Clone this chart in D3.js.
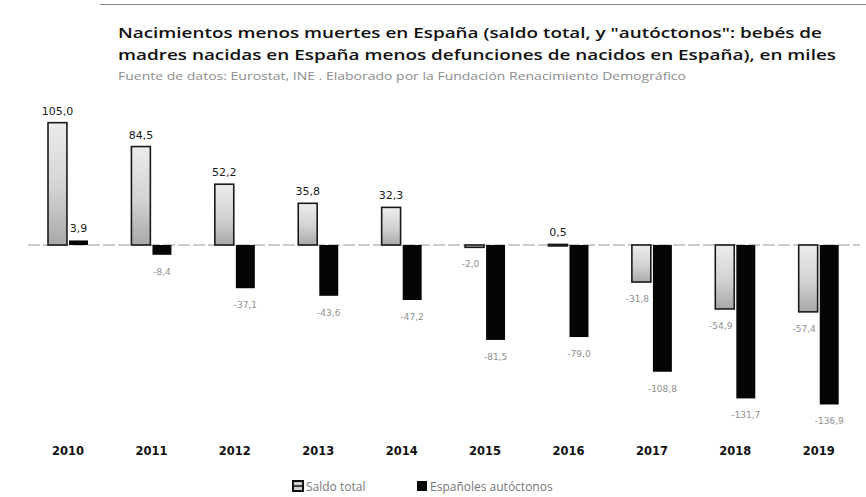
<!DOCTYPE html>
<html>
<head>
<meta charset="utf-8">
<script src="https://cdn.jsdelivr.net/npm/d3@7"></script>
<style>
  html, body { margin: 0; padding: 0; background: #fff; }
  svg { display: block; }
</style>
</head>
<body>
<svg id="chart" width="866" height="497"></svg>
<script>
// values in thousands
const years = ['2010', '2011', '2012', '2013', '2014', '2015', '2016', '2017', '2018', '2019'];
const saldoTotal = [105.0, 84.5, 52.2, 35.8, 32.3, -2.0, 0.5, -31.8, -54.9, -57.4];
const autoctonos = [3.9, -8.4, -37.1, -43.6, -47.2, -81.5, -79.0, -108.8, -131.7, -136.9];
const seriesNames = ['Saldo total', 'Españoles autóctonos'];
const titleLines = [
  'Nacimientos menos muertes en España (saldo total, y "autóctonos": bebés de',
  'madres nacidas en España menos defunciones de nacidos en España), en miles'
];
const sourceText = 'Fuente de datos: Eurostat, INE . Elaborado por la Fundación Renacimiento Demográfico';

const rows = years.map((y, i) => ({ year: y, values: [saldoTotal[i], autoctonos[i]] }));

const svg = d3.select('#chart');
const width = 866;

const fmt = v => d3.format('.1f')(v).replace('.', ',').replace('−', '-');

// gradient for the light bars
const defs = svg.append('defs');
const grad = defs.append('linearGradient')
  .attr('id', 'saldoGrad')
  .attr('x1', 0).attr('y1', 0).attr('x2', 0).attr('y2', 1);
grad.append('stop').attr('offset', '0%').attr('stop-color', '#ececec');
grad.append('stop').attr('offset', '55%').attr('stop-color', '#d2d2d2');
grad.append('stop').attr('offset', '100%').attr('stop-color', '#a8a8a8');

// top rule
svg.append('line')
  .attr('x1', 100).attr('x2', width)
  .attr('y1', 4.5).attr('y2', 4.5)
  .attr('stroke', '#8a8a8a')
  .attr('stroke-width', 1.2);

// title
svg.selectAll('text.title')
  .data(titleLines)
  .enter().append('text')
  .attr('class', 'title')
  .attr('x', 118)
  .attr('y', (d, i) => 38 + i * 22)
  .attr('textLength', (d, i) => i == 0 ? 704 : 718)
  .attr('lengthAdjust', 'spacingAndGlyphs')
  .style('font-family', '"Open Sans", "DejaVu Sans", sans-serif')
  .style('font-weight', 600)
  .style('font-size', '14.5px')
  .style('fill', '#111')
  .text(d => d);

svg.append('text')
  .attr('x', 118)
  .attr('y', 80)
  .attr('textLength', 568)
  .attr('lengthAdjust', 'spacingAndGlyphs')
  .style('font-family', '"Open Sans", sans-serif')
  .style('font-size', '10.5px')
  .style('fill', '#8c8c8c')
  .text(sourceText);

// scales
const x0 = d3.scaleBand()
  .domain(years)
  .range([26.3, 860.4])
  .paddingInner(0.47)
  .paddingOuter(0.235);

const x1 = d3.scaleBand()
  .domain(d3.range(seriesNames.length))
  .range([0, x0.bandwidth()])
  .padding(0.1);

const y = d3.scaleLinear()
  .domain([-140, 110])
  .range([408.1, 116.85]);

// zero line
svg.append('line')
  .attr('x1', 28).attr('x2', 860)
  .attr('y1', y(0)).attr('y2', y(0))
  .attr('stroke', '#9a9a9a')
  .attr('stroke-width', 1)
  .attr('stroke-dasharray', '12,3');

const groups = svg.selectAll('g.year')
  .data(rows)
  .enter().append('g')
  .attr('class', 'year')
  .attr('transform', d => `translate(${x0(d.year)},0)`);

groups.selectAll('rect')
  .data(d => d.values.map((v, k) => ({ v, k })))
  .enter().append('rect')
  .attr('x', d => x1(d.k))
  .attr('width', x1.bandwidth())
  .attr('y', d => y(Math.max(0, d.v)))
  .attr('height', d => Math.max(1.5, Math.abs(y(d.v) - y(0))))
  .attr('fill', d => d.k == 0 ? 'url(#saldoGrad)' : '#050505')
  .attr('stroke', d => d.k == 0 ? '#1a1a1a' : 'none')
  .attr('stroke-width', 1.6);

// value labels
groups.selectAll('text.val')
  .data(d => d.values.map((v, k) => ({ v, k })))
  .enter().append('text')
  .attr('class', 'val')
  .attr('x', d => x1(d.k) + x1.bandwidth() / 2 - (d.k == 0 && d.v < 0 ? 4 : 0))
  .attr('y', d => d.v >= 0 ? y(d.v) - 8 : y(d.v) + 20)
  .attr('text-anchor', 'middle')
  .style('font-family', '"DejaVu Sans", sans-serif')
  .style('font-size', d => d.v >= 0 ? '11px' : '9px')
  .style('fill', d => d.v >= 0 ? '#1a1a1a' : '#8f8f8f')
  .text(d => fmt(d.v));

// year axis labels
const xAxis = svg.append('g')
  .attr('transform', 'translate(0,447)')
  .call(d3.axisBottom(x0).tickSize(0).tickPadding(0));
xAxis.select('.domain').remove();
xAxis.selectAll('text')
  .attr('dy', '0.71em')
  .style('font-family', '"DejaVu Sans", sans-serif')
  .style('font-weight', 'bold')
  .style('font-size', '11.5px')
  .style('fill', '#111');

// legend
const legend = svg.append('g').attr('transform', 'translate(293,481)');
const legX = [0, 124];
const leg = legend.selectAll('g')
  .data(seriesNames)
  .enter().append('g')
  .attr('transform', (d, i) => `translate(${legX[i]},0)`);
leg.append('rect')
  .attr('x', 0).attr('y', 0)
  .attr('width', 10).attr('height', 10)
  .attr('fill', (d, i) => i == 0 ? '#d0d0d0' : '#050505')
  .attr('stroke', (d, i) => i == 0 ? '#111' : 'none')
  .attr('stroke-width', 2);
leg.filter((d, i) => i == 0).append('line')
  .attr('x1', 1).attr('x2', 9)
  .attr('y1', 5).attr('y2', 5)
  .attr('stroke', '#111')
  .attr('stroke-width', 1.5);
leg.append('text')
  .attr('x', 13)
  .attr('y', 9.5)
  .style('font-family', '"Open Sans", sans-serif')
  .style('font-size', '12px')
  .style('fill', '#777')
  .text(d => d);
</script>
</body>
</html>
